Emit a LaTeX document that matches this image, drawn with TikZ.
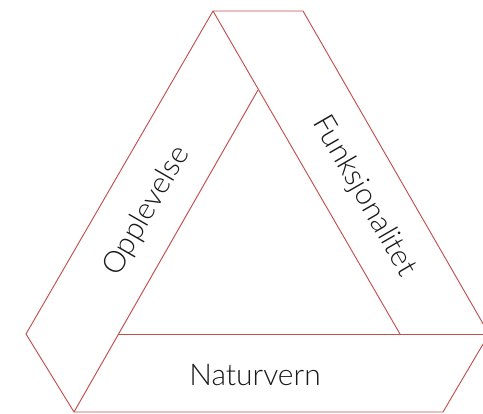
\documentclass[tikz,border=0pt]{standalone}
\usepackage{fontspec}
\setmainfont{Lato}[UprightFont={* Light}]
\definecolor{edgered}{RGB}{192,80,77}
\tikzset{
  strip/.style={draw=edgered, line width=0.7pt, line join=miter},
  stripname/.style={font=\fontsize{22.5}{26}\selectfont, text=black!90, inner sep=0pt}
}
\begin{document}
\begin{tikzpicture}[x=0.75pt, y=-0.75pt]
            \useasboundingbox (0,0) rectangle (483,414);

            % Corners
            \coordinate (topL) at (213,11);
            \coordinate (topR) at (303,11);
            \coordinate (left) at (26,334);
            \coordinate (botL) at (74,412);
            \coordinate (botR) at (443,412);
            \coordinate (right) at (489,334);
            \coordinate (inTop) at (258,90);
            \coordinate (inL) at (119,334);
            \coordinate (inR) at (400,334);

            % Strips
            \draw[strip] (topL) -- (topR) -- (right) -- (botR) -- (botL) -- (left) -- cycle;
            \draw[strip] (topL) -- (inR);
            \draw[strip] (inL) -- (right);
            \draw[strip] (botL) -- (inTop);

            % Labels
            \node[stripname, rotate=60] (opplevelse) at (147,211) {Opplevelse};
            \node[stripname, rotate=-60] (funksjon) at (364,196) {Funksjonalitet};
            \node[stripname] (naturvern) at (255,375) {Naturvern};
        \end{tikzpicture}
\end{document}
